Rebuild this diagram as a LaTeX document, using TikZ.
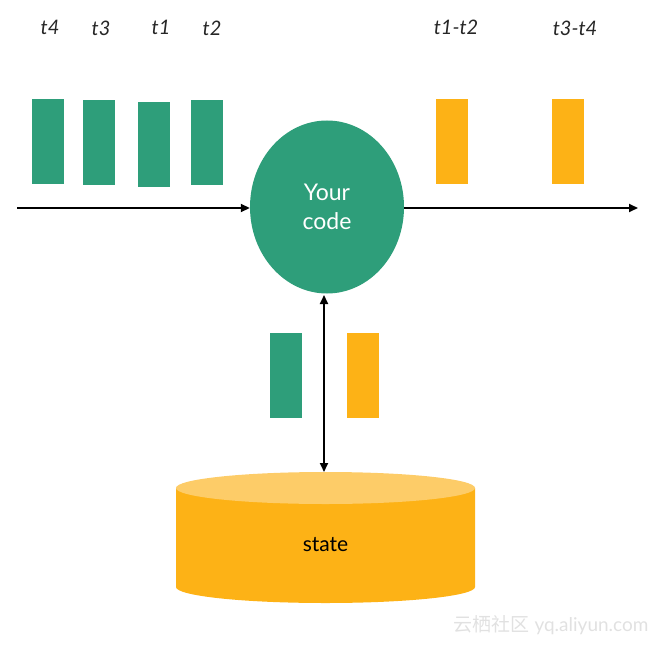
\documentclass[tikz,border=0pt]{standalone}
\usepackage{fontspec}
\setmainfont{Lato}
\newfontfamily\cjkfont{Noto Sans CJK SC}
\usetikzlibrary{shapes.geometric,arrows.meta}
\definecolor{tealg}{RGB}{46,158,122}
\definecolor{ambr}{RGB}{253,178,22}
\definecolor{ambrtop}{RGB}{253,204,104}
\definecolor{wmark}{RGB}{225,225,225}
\tikzset{
  lbl/.style={font=\fontsize{20}{23}\selectfont\itshape, text=black!85},
  gbar/.style={fill=tealg, draw=none, minimum width=32pt, minimum height=85pt, inner sep=0pt},
  obar/.style={fill=ambr, draw=none, minimum width=32pt, minimum height=85pt, inner sep=0pt},
  flow/.style={line width=1.8pt, -{Triangle[length=9pt,width=8pt]}},
  dflow/.style={line width=1.8pt, {Triangle[length=9pt,width=8pt]}-{Triangle[length=9pt,width=8pt]}}
}
\begin{document}
\begin{tikzpicture}[x=1pt,y=-1pt]
\useasboundingbox (0,0) rectangle (660,644);
% labels
\node[lbl] (l4) at (50,27) {t4};
\node[lbl] (l3) at (101,28) {t3};
\node[lbl] (l1) at (161,27) {t1};
\node[lbl] (l2) at (212,28) {t2};
\node[lbl] (l12) at (456,27) {t1-t2};
\node[lbl] (l34) at (575,28) {t3-t4};
% input bars
\node[gbar] (g4) at (48,141.5) {};
\node[gbar] (g3) at (99,143) {};
\node[gbar] (g1) at (154,144.5) {};
\node[gbar] (g2) at (207,143) {};
% output bars
\node[obar] (o12) at (452,141.5) {};
\node[obar] (o34) at (568,141.5) {};
% processor
\node[ellipse, fill=tealg, minimum width=154pt, minimum height=173pt, inner sep=0pt,
      text=white, align=center, font=\fontsize{23}{29}\selectfont] (code) at (327,207) {Your\\code};
% arrows
\coordinate (in) at (17,208);
\coordinate (out) at (638,208);
\draw[flow] (in) -- (code.west |- in);
\draw[flow] (code.east |- out) -- (out);
% state cylinder
\fill[ambr] (176,488) -- (176,587) arc[start angle=180,end angle=0,x radius=149.5,y radius=16] -- (475,488) -- cycle;
\fill[ambrtop] (325.5,488) ellipse[x radius=149.5, y radius=16];
\node[font=\fontsize{21}{24}\selectfont] (state) at (325.5,545) {state};
\coordinate (stop) at (324,472);
\coordinate (ctop) at (324,295);
\draw[dflow] (ctop) -- (stop);
% bars in transit
\node[gbar] (gs) at (286,375) {};
\node[obar] (os) at (363,375) {};
% watermark
\node[text=wmark, font=\fontsize{19}{22}\selectfont, anchor=east] (wm) at (652,625) {{\cjkfont 云栖社区} yq.aliyun.com};
\end{tikzpicture}
\end{document}
